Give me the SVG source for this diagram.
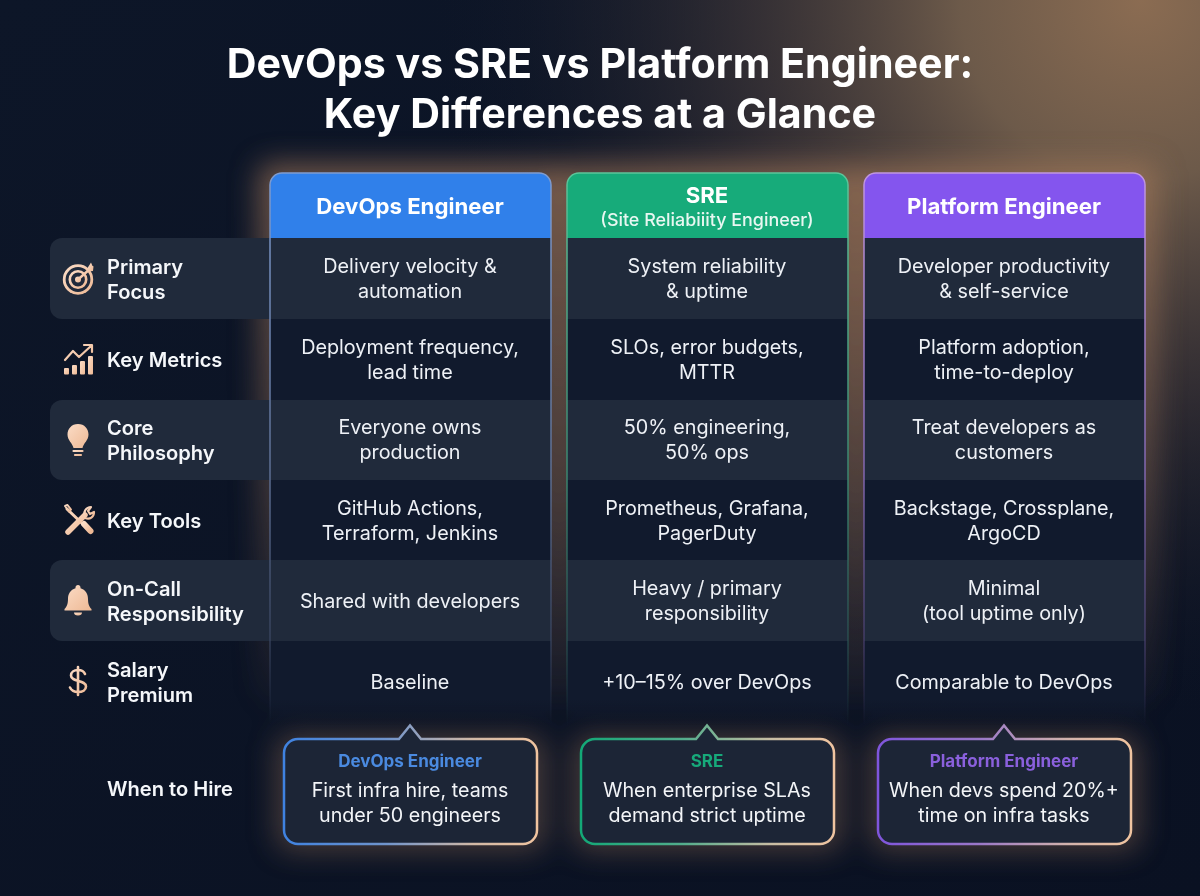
<svg xmlns="http://www.w3.org/2000/svg" width="1200" height="896" viewBox="0 0 1200 896">
<style>
text{font-family:Inter,"Liberation Sans",sans-serif;text-anchor:middle}
.title{font-size:41.2px;font-weight:700;fill:#fff}
.hd{font-size:22.2px;font-weight:700;fill:#fff}
.sub{font-size:17.9px;font-weight:500;fill:#e8f7f1}
.cell{font-size:19.8px;font-weight:400;fill:#eef1f6}
.lab{font-size:20.1px;font-weight:600;fill:#f5f7fa;text-anchor:start}
.tag{font-size:17px;font-weight:700}
.call{font-size:19.7px;font-weight:400;fill:#f3f5f8}
.lt{fill:#202a3b}
.dk{fill:#111a2d}
.ic{fill:url(#peach)}
.icl{fill:none;stroke:url(#peach);stroke-linecap:round;stroke-linejoin:round}
.box{fill:#1c2536;stroke-width:2.5}
</style>
<defs>
<linearGradient id="bgl" x1="0" y1="0" x2="1" y2="1"><stop offset="0" stop-color="#0d1628"/><stop offset="1" stop-color="#0a1122"/></linearGradient>
<radialGradient id="corner" gradientUnits="userSpaceOnUse" cx="1140" cy="0" r="720"><stop offset="0" stop-color="#8b6c52"/><stop offset=".25" stop-color="#75604d" stop-opacity=".92"/><stop offset=".55" stop-color="#4a3e3c" stop-opacity=".6"/><stop offset="1" stop-color="#0c1426" stop-opacity="0"/></radialGradient>
<linearGradient id="peach" x1="0" y1="0" x2="1" y2="1"><stop offset="0" stop-color="#fbdcc6"/><stop offset="1" stop-color="#eeb995"/></linearGradient>
<linearGradient id="glow" gradientUnits="userSpaceOnUse" x1="0" y1="170" x2="0" y2="700"><stop offset="0" stop-color="#a5795a" stop-opacity=".62"/><stop offset=".6" stop-color="#a5795a" stop-opacity=".34"/><stop offset="1" stop-color="#a5795a" stop-opacity=".05"/></linearGradient>
<linearGradient id="fadeB" gradientUnits="userSpaceOnUse" x1="0" y1="173" x2="0" y2="725"><stop offset="0" stop-color="#7f9cd0"/><stop offset=".55" stop-color="#5f7196" stop-opacity=".95"/><stop offset=".85" stop-color="#3f4b68" stop-opacity=".7"/><stop offset="1" stop-color="#3f4b68" stop-opacity="0"/></linearGradient>
<linearGradient id="fadeG" gradientUnits="userSpaceOnUse" x1="0" y1="173" x2="0" y2="725"><stop offset="0" stop-color="#5cc59a"/><stop offset=".55" stop-color="#3b8a72" stop-opacity=".95"/><stop offset=".85" stop-color="#2c5a58" stop-opacity=".7"/><stop offset="1" stop-color="#2c5a58" stop-opacity="0"/></linearGradient>
<linearGradient id="fadeP" gradientUnits="userSpaceOnUse" x1="0" y1="173" x2="0" y2="725"><stop offset="0" stop-color="#c096e0"/><stop offset=".55" stop-color="#8468b4" stop-opacity=".95"/><stop offset=".85" stop-color="#4f4478" stop-opacity=".7"/><stop offset="1" stop-color="#4f4478" stop-opacity="0"/></linearGradient>
<linearGradient id="rowFade" x1="0" y1="0" x2="0" y2="1"><stop offset="0" stop-color="#111a2d"/><stop offset=".7" stop-color="#111a2d"/><stop offset="1" stop-color="#111a2d" stop-opacity="0"/></linearGradient>
<linearGradient id="cb" gradientUnits="userSpaceOnUse" x1="284" y1="0" x2="537" y2="0"><stop offset="0" stop-color="#3f82e0"/><stop offset=".4" stop-color="#6f94cc"/><stop offset=".75" stop-color="#d2b9a6"/><stop offset="1" stop-color="#f0c4a0"/></linearGradient>
<linearGradient id="cg" gradientUnits="userSpaceOnUse" x1="581" y1="0" x2="834" y2="0"><stop offset="0" stop-color="#13a877"/><stop offset=".4" stop-color="#52ad8c"/><stop offset=".75" stop-color="#c8bda4"/><stop offset="1" stop-color="#f0c4a0"/></linearGradient>
<linearGradient id="cp" gradientUnits="userSpaceOnUse" x1="878" y1="0" x2="1131" y2="0"><stop offset="0" stop-color="#7f55dc"/><stop offset=".4" stop-color="#9a78c8"/><stop offset=".75" stop-color="#d2b3ac"/><stop offset="1" stop-color="#f0c4a0"/></linearGradient>
<filter id="blur" x="-30%" y="-30%" width="160%" height="160%"><feGaussianBlur stdDeviation="14"/></filter>
</defs>

<g id="background">
<rect width="1200" height="896" fill="url(#bgl)"/>
<rect width="1200" height="896" fill="url(#corner)"/>
</g>

<g id="glows" filter="url(#blur)">
<g fill="url(#glow)">
<rect x="258" y="163" width="305" height="540" rx="14"/>
<rect x="555" y="163" width="305" height="540" rx="14"/>
<rect x="852" y="163" width="305" height="540" rx="14"/>
</g>
<g fill="#a5795a" opacity=".38">
<rect x="276" y="735" width="270" height="116" rx="16"/>
<rect x="573" y="735" width="270" height="116" rx="16"/>
<rect x="870" y="735" width="270" height="116" rx="16"/>
</g>
</g>

<text class="title" x="600" y="78">DevOps vs SRE vs Platform Engineer:</text>
<text class="title" x="600" y="128">Key Differences at a Glance</text>

<g id="label-bands">
<path class="lt" d="M270 238H62a12 12 0 0 0-12 12v57a12 12 0 0 0 12 12H270z"/>
<path class="lt" d="M270 400H62a12 12 0 0 0-12 12v56a12 12 0 0 0 12 12H270z"/>
<path class="lt" d="M270 560H62a12 12 0 0 0-12 12v57a12 12 0 0 0 12 12H270z"/>
</g>

<g id="col-devops">
<rect class="lt" x="270" y="238" width="281" height="81"/>
<rect class="dk" x="270" y="319" width="281" height="81"/>
<rect class="lt" x="270" y="400" width="281" height="80"/>
<rect class="dk" x="270" y="480" width="281" height="80"/>
<rect class="lt" x="270" y="560" width="281" height="81"/>
<rect fill="url(#rowFade)" x="270" y="641" width="281" height="84"/>
<path d="M270 238V185a12 12 0 0 1 12-12H539a12 12 0 0 1 12 12V238z" fill="#3080ea"/>
<path d="M270 725V185a12 12 0 0 1 12-12H539a12 12 0 0 1 12 12V725" fill="none" stroke="url(#fadeB)" stroke-width="1.5"/>
<text class="hd" x="410" y="214">DevOps Engineer</text>
<text class="cell" x="410" y="273">Delivery velocity &amp;</text><text class="cell" x="410" y="298">automation</text>
<text class="cell" x="410" y="354">Deployment frequency,</text><text class="cell" x="410" y="379">lead time</text>
<text class="cell" x="410" y="434">Everyone owns</text><text class="cell" x="410" y="459">production</text>
<text class="cell" x="410" y="515">GitHub Actions,</text><text class="cell" x="410" y="540">Terraform, Jenkins</text>
<text class="cell" x="410" y="608">Shared with developers</text>
<text class="cell" x="410" y="689">Baseline</text>
</g>

<g id="col-sre">
<rect class="lt" x="567" y="238" width="281" height="81"/>
<rect class="dk" x="567" y="319" width="281" height="81"/>
<rect class="lt" x="567" y="400" width="281" height="80"/>
<rect class="dk" x="567" y="480" width="281" height="80"/>
<rect class="lt" x="567" y="560" width="281" height="81"/>
<rect fill="url(#rowFade)" x="567" y="641" width="281" height="84"/>
<path d="M567 238V185a12 12 0 0 1 12-12H836a12 12 0 0 1 12 12V238z" fill="#17ab7a"/>
<path d="M567 725V185a12 12 0 0 1 12-12H836a12 12 0 0 1 12 12V725" fill="none" stroke="url(#fadeG)" stroke-width="1.5"/>
<text class="hd" x="707" y="203">SRE</text>
<text class="sub" x="707" y="226">(Site Reliabiiity Engineer)</text>
<text class="cell" x="707" y="273">System reliability</text><text class="cell" x="707" y="298">&amp; uptime</text>
<text class="cell" x="707" y="354">SLOs, error budgets,</text><text class="cell" x="707" y="379">MTTR</text>
<text class="cell" x="707" y="434">50% engineering,</text><text class="cell" x="707" y="459">50% ops</text>
<text class="cell" x="707" y="515">Prometheus, Grafana,</text><text class="cell" x="707" y="540">PagerDuty</text>
<text class="cell" x="707" y="595">Heavy / primary</text><text class="cell" x="707" y="620">responsibility</text>
<text class="cell" x="707" y="689">+10–15% over DevOps</text>
</g>

<g id="col-platform">
<rect class="lt" x="864" y="238" width="281" height="81"/>
<rect class="dk" x="864" y="319" width="281" height="81"/>
<rect class="lt" x="864" y="400" width="281" height="80"/>
<rect class="dk" x="864" y="480" width="281" height="80"/>
<rect class="lt" x="864" y="560" width="281" height="81"/>
<rect fill="url(#rowFade)" x="864" y="641" width="281" height="84"/>
<path d="M864 238V185a12 12 0 0 1 12-12H1133a12 12 0 0 1 12 12V238z" fill="#8455ee"/>
<path d="M864 725V185a12 12 0 0 1 12-12H1133a12 12 0 0 1 12 12V725" fill="none" stroke="url(#fadeP)" stroke-width="1.5"/>
<text class="hd" x="1004" y="214">Platform Engineer</text>
<text class="cell" x="1004" y="273">Developer productivity</text><text class="cell" x="1004" y="298">&amp; self-service</text>
<text class="cell" x="1004" y="354">Platform adoption,</text><text class="cell" x="1004" y="379">time-to-deploy</text>
<text class="cell" x="1004" y="434">Treat developers as</text><text class="cell" x="1004" y="459">customers</text>
<text class="cell" x="1004" y="515">Backstage, Crossplane,</text><text class="cell" x="1004" y="540">ArgoCD</text>
<text class="cell" x="1004" y="595">Minimal</text><text class="cell" x="1004" y="620">(tool uptime only)</text>
<text class="cell" x="1004" y="689">Comparable to DevOps</text>
</g>

<g id="labels">
<text class="lab" x="107" y="274">Primary</text><text class="lab" x="107" y="299">Focus</text>
<text class="lab" x="107" y="367">Key Metrics</text>
<text class="lab" x="107" y="435">Core</text><text class="lab" x="107" y="460">Philosophy</text>
<text class="lab" x="107" y="528">Key Tools</text>
<text class="lab" x="107" y="596">On-Call</text><text class="lab" x="107" y="621">Responsibility</text>
<text class="lab" x="107" y="677">Salary</text><text class="lab" x="107" y="702">Premium</text>
<text class="lab" x="107" y="796">When to Hire</text>
</g>

<g id="icon-focus">
<circle class="icl" cx="78" cy="279.500" r="13.800" stroke-width="2.800"/>
<circle class="icl" cx="78" cy="279.500" r="8.200" stroke-width="2.600"/>
<circle class="ic" cx="78" cy="279.500" r="3"/>
<path class="icl" d="M78 279.500L90 269" stroke-width="2.400"/>
<path class="ic" d="M87.500 268L91 262.500L92.500 266L93 266L93.500 266.500L93 271L88.500 271.500z"/>
</g>
<g id="icon-metrics">
<rect class="ic" x="64" y="368" width="5" height="6.500" rx="1"/>
<rect class="ic" x="72" y="365" width="5" height="9.500" rx="1"/>
<rect class="ic" x="80" y="361" width="5" height="13.500" rx="1"/>
<rect class="ic" x="88" y="356" width="5" height="18.500" rx="1"/>
<path class="icl" d="M65 360L73 351L79 357L91 346M84 345H92V352" stroke-width="2.200"/>
</g>
<g id="icon-bulb">
<path class="ic" d="M78 424c-6.500 0-10.500 5-10.500 10.500 0 6 5 8.500 6 13.500h9c1-5 6-7.500 6-13.500C88.500 429 84.500 424 78 424z"/>
<path class="icl" d="M73.500 451H82.500M75 455H81" stroke-width="2.200"/>
</g>
<g id="icon-tools">
<path class="icl" d="M67 509L89 530" stroke-width="3"/>
<path class="icl" d="M65 506l2.500 -1 3.500 4.500-2 2z" stroke-width="2"/>
<path class="icl" d="M84 524l6.500 7" stroke-width="6"/>
<path class="icl" d="M68 532L85 515" stroke-width="5.500"/>
<path class="icl" d="M85 516c-2-4 1-9 6-9l-3 4 2 3 4-2c0 5-4 8-9 6" stroke-width="2.200"/>
</g>
<g id="icon-bell">
<path class="ic" d="M78 585c-1.500 0-2.500 1-2.500 2.500v.8c-5 1.500-7.500 5.500-7.500 10.700 0 6-2 8.500-3.500 10v1.500h27v-1.500c-1.500-1.500-3.500-4-3.500-10 0-5.200-2.500-9.200-7.500-10.700v-.8c0-1.500-1-2.500-2.500-2.500z"/>
<path class="ic" d="M74 612.500h8a4 3 0 0 1-8 0z"/>
</g>
<g id="icon-dollar">
<path class="icl" d="M85 674c-1-2.500-4-4-7-4-4 0-7 2-7 5.500 0 7 15 4 15 11 0 3.500-3.500 5.500-8 5.500-3.500 0-6.500-1.500-8-4.500M78 667V695" stroke-width="2.600"/>
</g>

<g id="callout-devops">
<path class="box" stroke="url(#cb)" d="M298 739H399L410 725.500 421 739H523a14 14 0 0 1 14 14v77a14 14 0 0 1-14 14H298a14 14 0 0 1-14-14v-77a14 14 0 0 1 14-14z"/>
<text class="tag" fill="#4a8ae0" x="410" y="767">DevOps Engineer</text>
<text class="call" x="410" y="797">First infra hire, teams</text><text class="call" x="410" y="822">under 50 engineers</text>
</g>
<g id="callout-sre">
<path class="box" stroke="url(#cg)" d="M595 739H696L707 725.500 718 739H820a14 14 0 0 1 14 14v77a14 14 0 0 1-14 14H595a14 14 0 0 1-14-14v-77a14 14 0 0 1 14-14z"/>
<text class="tag" fill="#17a97a" x="707" y="767">SRE</text>
<text class="call" x="707" y="797">When enterprise SLAs</text><text class="call" x="707" y="822">demand strict uptime</text>
</g>
<g id="callout-platform">
<path class="box" stroke="url(#cp)" d="M892 739H993L1004 725.500 1015 739H1117a14 14 0 0 1 14 14v77a14 14 0 0 1-14 14H892a14 14 0 0 1-14-14v-77a14 14 0 0 1 14-14z"/>
<text class="tag" fill="#8a60dc" x="1004" y="767">Platform Engineer</text>
<text class="call" x="1004" y="797">When devs spend 20%+</text><text class="call" x="1004" y="822">time on infra tasks</text>
</g>
</svg>
